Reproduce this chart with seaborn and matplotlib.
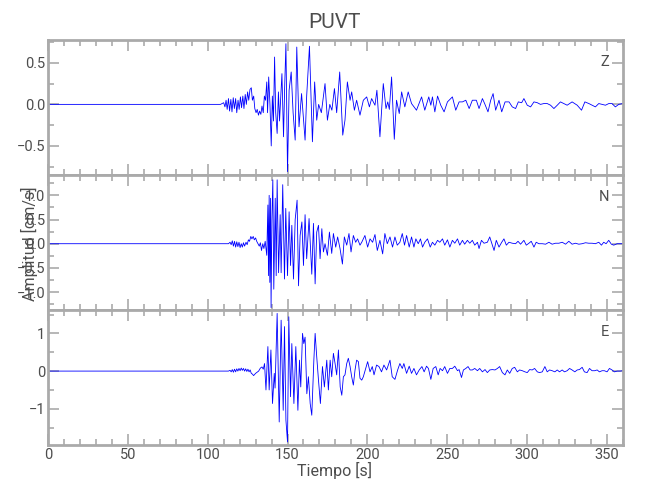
import pandas as pd
import matplotlib.pyplot as plt
import seaborn as sns
from matplotlib.ticker import MultipleLocator

# (time [s], amplitude [cm/s]), one list per component
z_trace = [(0, 0.0), (108, 0.0), (110, 0.02), (110.8, -0.03), (111.5, 0.05), (112.2, -0.06), (113, 0.07), (113.7, -0.08),
           (114.5, 0.06), (115.2, -0.09), (116, 0.08), (116.7, -0.05), (117.5, 0.07), (118.2, -0.1), (119, 0.05),
           (119.7, -0.06), (120.5, 0.09), (121.2, -0.04), (122, 0.1), (122.7, -0.05), (123.5, 0.12), (124.2, 0.0),
           (125, 0.15), (125.7, 0.05), (126.5, 0.18), (127.3, 0.2), (128, 0.05), (128.8, 0.1), (129.5, -0.05),
           (130.3, -0.1), (131, -0.06), (131.8, -0.13), (132.5, -0.08), (133.3, -0.12), (134, -0.02), (134.8, -0.1),
           (135.5, 0.1), (136.2, 0.05), (137, 0.27), (137.5, -0.1), (138.2, 0.33), (139, 0.0), (139.8, -0.5),
           (140.5, 0.1), (141.2, -0.2), (141.9, 0.57), (142.6, -0.1), (143.5, -0.35), (144.3, 0.15), (145, -0.2),
           (146.5, 0.37), (147.5, -0.39), (148.2, 0.2), (149, 0.73), (150, -0.81), (151, 0.17), (152.3, 0.39),
           (153.5, -0.1), (154.8, -0.43), (155.8, 0.69), (157.2, -0.27), (158.8, 0.13), (161, -0.43), (162, 0.1),
           (163.75, 0.7), (165.6, -0.45), (167, 0.27), (168.3, -0.19), (169.5, 0.0), (171.2, -0.1), (173.5, 0.25),
           (175, -0.19), (176.5, 0.0), (177.8, -0.07), (179.4, 0.19), (180.8, -0.1), (182.7, 0.39), (184.6, -0.37),
           (186, -0.19), (187.5, 0.27), (189.2, 0.05), (190.2, 0.15), (191.9, -0.07), (193.3, 0.05), (195.4, -0.13),
           (197.5, 0.05), (199.6, 0.09), (201.3, -0.03), (202.7, 0.07), (204.8, -0.01), (206, 0.17), (207.9, -0.39),
           (210, 0.25), (211.7, -0.05), (212.8, 0.03), (213.8, -0.06), (215.2, 0.33), (216.9, -0.42), (218.3, 0.05),
           (220, -0.11), (221.5, 0.15), (223.5, -0.03), (225.6, 0.15), (227.7, 0.01), (230.8, -0.07), (234, 0.09),
           (236, -0.07), (238.5, 0.09), (239.8, -0.01), (240.8, 0.09), (242.3, -0.09), (244, 0.1), (246, -0.01),
           (248.1, -0.09), (250.2, 0.03), (253.3, 0.09), (255.4, -0.07), (257.5, 0.03), (259.6, 0.03), (261.7, 0.05),
           (263.8, -0.05), (265.8, 0.05), (268.3, 0.05), (270, -0.05), (272.1, 0.07), (273.5, 0.01), (275.6, -0.09),
           (277.3, 0.05), (278.8, 0.13), (280.4, -0.07), (282.5, 0.05), (284.2, -0.09), (286.3, 0.03), (288.8, 0.03),
           (290.8, -0.03), (292.9, -0.05), (294.6, 0.03), (296.7, 0.02), (298.1, 0.07), (300.2, -0.01), (302.3, -0.03),
           (304.4, 0.03), (306.5, 0.02), (308.5, 0.0), (310.6, 0.01), (312.7, 0.01), (314.8, -0.01), (316.9, -0.05),
           (319, -0.01), (321, 0.03), (323.1, 0.01), (325.2, -0.01), (328.3, 0.03), (331.5, -0.01), (334.2, -0.07),
           (336.3, 0.03), (338.8, 0.01), (340.8, -0.01), (342.9, -0.03), (345, 0.01), (347.1, 0.0), (349.2, -0.01),
           (351.3, 0.01), (353.3, 0.01), (355.4, -0.03), (357.5, 0.0), (360, 0.01)]

n_trace = [(0, 0.0), (113, 0.0), (114, 0.03), (114.7, -0.02), (115.4, 0.06), (116.1, -0.05), (116.8, 0.05), (117.5, -0.07),
           (118.2, 0.04), (118.9, -0.06), (119.6, 0.03), (120.3, -0.08), (121, 0.0), (121.7, -0.07), (122.4, 0.02),
           (123.1, -0.05), (124, 0.03), (124.7, -0.02), (125.5, 0.08), (126.2, 0.05), (127, 0.15), (127.7, 0.1),
           (128.5, 0.15), (129.2, 0.08), (130, 0.12), (130.7, 0.05), (131.5, 0.0), (132.3, -0.05), (133, 0.02),
           (133.7, -0.14), (134.5, 0.0), (135.2, -0.1), (136, 0.05), (137, -0.24), (137.7, 0.8), (138.1, -0.66),
           (138.5, 1.0), (138.9, -0.8), (139.3, 0.94), (139.7, -1.32), (140.2, 0.5), (140.8, 1.32), (141.4, -0.94),
           (142.3, 0.94), (142.9, -0.66), (143.5, 1.32), (144.4, -0.6), (145.4, 0.6), (146, -0.6), (147, 1.22),
           (148.1, -0.73), (148.9, 0.73), (150, -0.66), (151, 0.66), (151.9, -0.45), (152.7, 0.38), (153.75, -0.73),
           (154.8, 0.5), (156, 0.9), (156.9, -0.87), (157.9, 0.17), (159, 0.45), (160, -0.45), (161, 0.6),
           (162, -0.31), (163.5, 0.52), (165.2, -0.63), (166.25, 0.42), (167.3, -0.83), (168.3, 0.24), (169.4, 0.38),
           (170.4, -0.31), (171.5, 0.31), (172.5, -0.17), (173.5, 0.0), (175, -0.24), (176.25, 0.24), (177.7, -0.2),
           (178.75, 0.21), (180.2, -0.07), (181.4, 0.14), (182.9, -0.1), (184.4, -0.42), (185.6, 0.14), (187.1, -0.03),
           (188.5, 0.21), (189.8, -0.17), (191.25, 0.17), (192.7, 0.03), (193.9, 0.1), (195.4, -0.03), (196.5, 0.03),
           (198.5, 0.17), (200.2, -0.07), (201.7, 0.1), (203.3, 0.03), (204.8, 0.19), (206.25, -0.14), (207.9, 0.07),
           (209.6, -0.21), (211, 0.21), (212.5, 0.0), (214.2, 0.14), (215.8, -0.07), (217.3, 0.14), (218.75, -0.03),
           (220.4, 0.03), (221.9, 0.21), (223.3, -0.03), (224.6, 0.17), (226.25, -0.07), (227.7, 0.14), (229.2, -0.07),
           (230.4, 0.1), (231.9, 0.0), (233.3, 0.1), (234.6, -0.07), (236, 0.03), (237.7, 0.1), (239.4, -0.07),
           (240.8, 0.03), (242.3, -0.03), (244, 0.07), (245.4, 0.03), (247.1, 0.1), (248.5, -0.03), (250.2, 0.08),
           (251.7, -0.07), (253.3, 0.07), (254.8, 0.01), (256.5, 0.1), (257.9, -0.03), (259.6, 0.07), (261, -0.01),
           (262.7, 0.07), (264.2, 0.01), (265.8, 0.07), (267.3, -0.03), (269, 0.03), (270, -0.1), (271.5, 0.07),
           (273.1, 0.01), (275.2, 0.03), (276.7, 0.14), (278.3, -0.03), (279.4, -0.14), (280.8, 0.07), (282.5, -0.07),
           (284.2, 0.03), (285.6, 0.1), (287.1, -0.03), (288.75, 0.03), (290.8, 0.01), (292.9, 0.0), (294.4, 0.05),
           (296, -0.01), (298.1, 0.07), (299.6, -0.03), (301.25, 0.01), (302.7, 0.05), (304.4, -0.07), (305.8, 0.03),
           (307.5, 0.0), (309.6, 0.0), (311.7, -0.01), (313.75, 0.03), (315.8, -0.01), (317.9, 0.01), (320, 0.01),
           (322.1, 0.03), (324.2, -0.01), (326.25, 0.05), (328.3, -0.01), (330.4, 0.01), (332.5, -0.01), (334.6, 0.0),
           (336.7, 0.02), (338.75, 0.01), (340.8, 0.01), (342.9, 0.0), (345, 0.03), (346.7, -0.03), (348.1, 0.03),
           (349.6, 0.0), (351.25, 0.07), (352.9, -0.01), (354.4, -0.03), (356.5, 0.0), (358.5, 0.0), (360, 0.0)]

e_trace = [(0, 0.0), (113, 0.0), (114, 0.02), (114.7, -0.02), (115.4, 0.04), (116.1, -0.03), (116.8, 0.05), (117.5, -0.02),
           (118.2, 0.06), (118.9, 0.0), (119.6, 0.07), (120.3, 0.01), (121, 0.08), (121.7, 0.02), (122.4, 0.07),
           (123.1, 0.0), (123.8, 0.06), (124.5, -0.01), (125.2, 0.05), (125.9, -0.02), (126.6, 0.03), (127.3, -0.06),
           (128, -0.08), (128.75, -0.12), (130, -0.06), (131.9, 0.0), (133, 0.08), (134, 0.11), (134.8, 0.05),
           (135.6, 0.2), (136.5, -0.5), (137.7, 0.65), (138.5, -0.5), (139.6, 0.56), (140.6, -0.86), (141.7, -0.06),
           (142.2, -0.45), (143.5, 1.53), (144.8, -1.35), (146, 1.35), (147.3, -1.04), (148.1, 1.18), (149, -1.3),
           (150, -1.88), (150.8, 1.44), (151.9, -0.68), (152.7, 0.73), (154, -0.86), (155.2, 0.65), (156.5, -1.04),
           (157.5, 0.29), (158.3, -0.42), (159.4, 1.0), (160.2, 0.73), (161, 0.9), (162.1, -0.6), (163.1, -0.15),
           (164.2, -0.86), (165.2, -1.17), (166.5, 0.29), (167.3, 1.0), (168.3, 0.38), (169.4, -0.24), (170.6, -0.86),
           (171.9, 0.12), (173.1, -0.42), (174.6, 0.29), (175.6, -0.5), (176.7, 0.29), (177.7, -0.15), (178.75, 0.47),
           (179.8, 0.2), (180.8, -0.1), (181.9, 0.56), (183, -0.42), (184, -0.64), (185, -0.15), (186, -0.1),
           (187.1, 0.2), (188.1, 0.34), (189.2, 0.12), (190.2, -0.15), (191.25, -0.37), (192.3, 0.03), (193.3, 0.29),
           (194.4, 0.25), (195.4, -0.19), (196.5, -0.24), (197.5, -0.15), (199, 0.07), (200.2, 0.25), (201.7, -0.02),
           (203.1, 0.12), (204.2, -0.1), (205.8, 0.16), (207.3, 0.12), (208.9, -0.02), (210.4, 0.16), (212.1, 0.03),
           (214.2, 0.29), (215.6, -0.15), (217.3, -0.22), (219, 0.03), (220.4, 0.2), (221.9, 0.07), (222.9, 0.2),
           (224.6, -0.06), (226.25, 0.13), (227.7, -0.06), (229.2, 0.07), (230.8, -0.1), (232.5, 0.03), (234.2, 0.12),
           (235.6, -0.02), (237.1, 0.13), (238.3, 0.07), (239.8, -0.22), (241.25, 0.07), (242.9, 0.12), (244.4, -0.1),
           (245.6, 0.07), (247.1, 0.01), (248.5, 0.12), (250.2, -0.06), (251.7, 0.07), (253.3, 0.07), (254.8, 0.13),
           (256.5, 0.01), (257.5, 0.04), (259, -0.17), (260.2, 0.03), (261.7, 0.07), (263.1, 0.12), (264.4, 0.03),
           (265.8, 0.03), (267.3, 0.07), (269, 0.01), (270.4, 0.07), (272.1, -0.02), (273.75, 0.04), (275.2, -0.04),
           (276.7, 0.03), (278.3, 0.04), (280, 0.03), (281.5, 0.07), (282.9, 0.12), (284.6, -0.04), (286.25, -0.1),
           (287.7, 0.03), (289.2, -0.06), (290.8, 0.07), (292.3, 0.1), (294, -0.02), (295.4, 0.03), (297.1, 0.01),
           (298.75, -0.02), (300.2, -0.04), (301.7, 0.04), (303.3, 0.03), (304.8, 0.07), (306.5, -0.02), (307.9, -0.04),
           (309.6, -0.02), (311.25, 0.12), (312.7, -0.02), (314.2, 0.03), (315.8, 0.01), (317.5, -0.02), (319, 0.03),
           (320.4, -0.02), (322.1, 0.03), (323.5, -0.02), (325.2, 0.01), (326.7, 0.07), (328.3, 0.03), (330, -0.02),
           (331.5, 0.03), (332.9, 0.04), (334.6, 0.1), (336, -0.02), (337.7, -0.04), (339.2, 0.07), (340.8, 0.01),
           (342.5, 0.01), (344, 0.03), (345.4, -0.02), (347.1, 0.01), (348.5, 0.01), (350.2, -0.02), (351.7, 0.07),
           (353.3, 0.03), (354.8, -0.02), (356.5, 0.0), (358.5, 0.0), (360, 0.01)]

components = ['Z', 'N', 'E']
traces = [z_trace, n_trace, e_trace]
ylims = [(-0.85, 0.775), (-1.37, 1.42), (-1.96, 1.62)]
ymajor = [0.5, 0.5, 1.0]
yminor = [0.25, 0.25, 0.5]

sns.set_style('ticks')
plt.rcParams['font.family'] = ['Roboto', 'DejaVu Sans']
grey = '#4d4d4d'
spine_grey = '#aaaaaa'

fig, axs = plt.subplots(3, 1, sharex=True, figsize=(6.5, 5), dpi=100)
fig.subplots_adjust(left=0.074, right=0.958, top=0.92, bottom=0.11, hspace=0)

for i, ax in enumerate(axs):
    df = pd.DataFrame(traces[i], columns=['t', 'amp'])
    sns.lineplot(ax=ax, data=df, x='t', y='amp', color='#0000ff', lw=0.6, estimator=None)
    ax.set_xlim(0, 360)
    ax.set_ylim(ylims[i])
    ax.xaxis.set_major_locator(MultipleLocator(50))
    ax.xaxis.set_minor_locator(MultipleLocator(10))
    ax.yaxis.set_major_locator(MultipleLocator(ymajor[i]))
    ax.yaxis.set_minor_locator(MultipleLocator(yminor[i]))
    ax.tick_params(which='both', direction='in', top=True, right=True, colors=spine_grey,
                   labelcolor=grey, labelsize=10.5, width=1.2, pad=2)
    ax.tick_params(which='major', length=8)
    ax.tick_params(which='minor', length=4.5)
    for s in ax.spines.values():
        s.set_color(spine_grey)
        s.set_linewidth(2)
    ax.set_xlabel('')
    ax.set_ylabel('')
    ax.text(0.976, 0.84, components[i], transform=ax.transAxes, ha='right', va='center',
            color=grey, fontsize=10.5)

axs[0].yaxis.set_major_formatter('{x:.1f}')
axs[1].yaxis.set_major_formatter('{x:.1f}')
axs[2].yaxis.set_major_formatter('{x:.0f}')

fig.suptitle('PUVT', x=0.515, y=0.975, color=grey, fontsize=15)
fig.text(0.515, 0.06, 'Tiempo [s]', ha='center', va='center', color=grey, fontsize=11.5)
fig.text(0.045, 0.513, 'Amplitud [cm/s]', ha='center', va='center', rotation=90, color=grey, fontsize=11.5)

plt.savefig('out.png', dpi=100)
